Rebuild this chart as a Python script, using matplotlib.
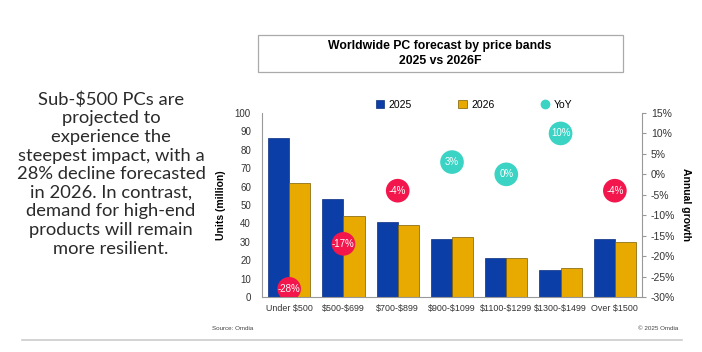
import matplotlib
matplotlib.use("Agg")
import matplotlib.pyplot as plt
from matplotlib.patches import Rectangle, Patch
from matplotlib.lines import Line2D
import numpy as np

categories = ["Under $500", "$500-$699", "$700-$899", "$900-$1099",
              "$1100-$1299", "$1300-$1499", "Over $1500"]
units_2025 = [86.2, 53.4, 40.6, 31.3, 21.0, 14.5, 31.3]
units_2026 = [62.0, 44.2, 39.0, 32.4, 21.0, 15.9, 30.0]
yoy = [-28, -17, -4, 3, 0, 10, -4]
left_ticks = list(range(0, 101, 10))
right_ticks = list(range(-30, 16, 5))

BLUE = "#0b3ea6"
GOLD = "#e8a900"
RED = "#f3164c"
TEAL = "#3ad3c4"

plt.rcParams['font.family'] = ['Liberation Sans', 'DejaVu Sans']
plt.rcParams['text.parse_math'] = False

fig = plt.figure(figsize=(7.02, 3.52), dpi=100)
fig.patch.set_facecolor("white")

W, H = 702, 352
ax = fig.add_axes([262 / W, 1 - 297 / H, 380 / W, 184 / H])
x = np.arange(len(categories))
bw = 0.39
ax.bar(x - bw / 2, units_2025, bw, color=BLUE, edgecolor="#0a2f80", linewidth=0.5, zorder=2)
ax.bar(x + bw / 2, units_2026, bw, color=GOLD, edgecolor="#7a5c00", linewidth=0.5, zorder=2)
ax.set_xlim(-0.5, len(categories) - 0.5)
ax.set_ylim(0, 100)
ax.set_yticks(left_ticks)
ax.set_xticks(x)
ax.set_xticklabels(categories, fontsize=6.4, color="#333333")
ax.tick_params(axis="y", labelsize=7, length=0, pad=8, labelcolor="#333333")
ax.tick_params(axis="x", length=0, pad=5)
for s in ["top", "right"]:
    ax.spines[s].set_visible(False)
ax.spines["left"].set_color("#999999")
ax.spines["bottom"].set_color("#999999")
ax.set_ylabel("Units (million)", fontsize=7.5, fontweight="bold", labelpad=6)

ax2 = ax.twinx()
ax2.set_ylim(-30, 15)
ax2.set_yticks(right_ticks)
ax2.set_yticklabels([f"{t}%" for t in right_ticks])
ax2.tick_params(axis="y", labelsize=7.5, length=3, color="#999999", labelcolor="#333333")
for s in ["top", "left", "bottom"]:
    ax2.spines[s].set_visible(False)
ax2.spines["right"].set_color("#999999")
cols = [RED if v < 0 else TEAL for v in yoy]
ax2.scatter(x, yoy, s=290, c=cols, zorder=3, linewidths=0)
for xi, v in zip(x, yoy):
    ax2.text(xi, v, f"{v}%", ha="center", va="center", color="white", fontsize=7, zorder=4)
ax2.set_ylabel("Annual growth", fontsize=7.5, fontweight="bold", rotation=-90, labelpad=11)

handles = [Patch(facecolor=BLUE, edgecolor="#0a2f80", linewidth=0.5),
           Patch(facecolor=GOLD, edgecolor="#7a5c00", linewidth=0.5),
           Line2D([], [], marker="o", linestyle="none", color=TEAL, markersize=6)]
fig.legend(handles, ["2025", "2026", "YoY"], loc="center", bbox_to_anchor=(474 / W, 1 - 105 / H),
           ncol=3, frameon=False, fontsize=7.5, handlelength=0.8, handleheight=0.8,
           columnspacing=4.5, handletextpad=0.4)

# Title box
fig.patches.append(Rectangle((258 / W, 1 - 72 / H), 365 / W, 37 / H, transform=fig.transFigure,
                             facecolor="white", edgecolor="#aaaaaa", linewidth=0.9))
fig.text(440 / W, 1 - 46 / H, "Worldwide PC forecast by price bands", ha="center", va="center",
         fontsize=8.8, fontweight="bold")
fig.text(440 / W, 1 - 61 / H, "2025 vs 2026F", ha="center", va="center",
         fontsize=8.8, fontweight="bold")

fig.text(111 / W, 1 - 174 / H,
         "Sub-$500 PCs are\nprojected to\nexperience the\nsteepest impact, with a\n"
         "28% decline forecasted\nin 2026. In contrast,\ndemand for high-end\n"
         "products will remain\nmore resilient.",
         ha="center", va="center", fontsize=13.2, linespacing=1.2, color="#2a2a2a",
         family=["Lato", "DejaVu Sans"])

fig.text(212 / W, 1 - 328 / H, "Source: Omdia", fontsize=4.5, va="center", color="#444444")
fig.text(678 / W, 1 - 328 / H, "© 2025 Omdia", fontsize=4.5, va="center", ha="right", color="#444444")
fig.add_artist(Line2D([22 / W, 682 / W], [1 - 340 / H, 1 - 340 / H], transform=fig.transFigure,
                      color="#cccccc", linewidth=1.2))

fig.savefig("out.png", dpi=100)
